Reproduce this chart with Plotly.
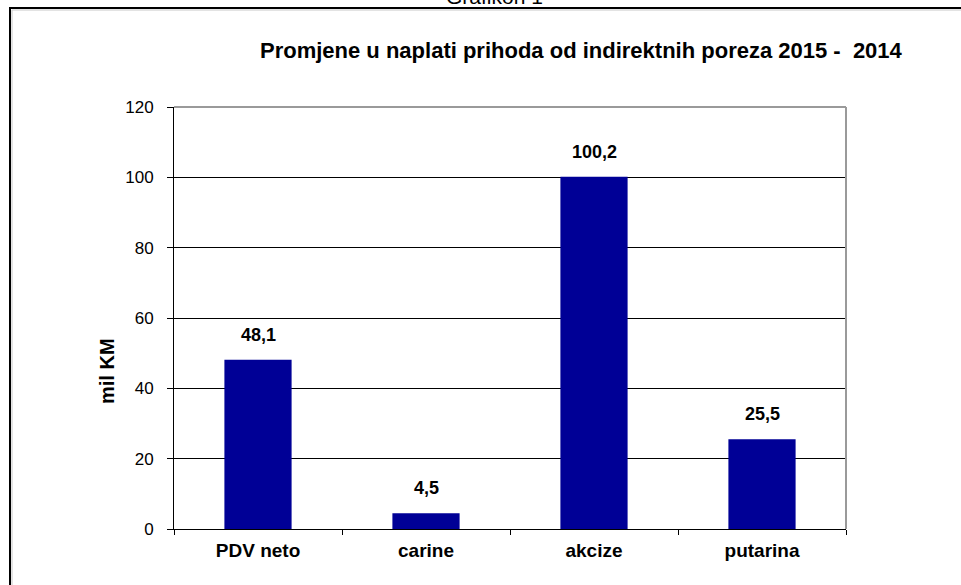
import plotly.graph_objects as go

categories = ["PDV neto", "carine", "akcize", "putarina"]
values = [48.1, 4.5, 100.2, 25.5]
value_labels = ["48,1", "4,5", "100,2", "25,5"]
y_ticks = [0, 20, 40, 60, 80, 100, 120]

title_text = "Promjene u naplati prihoda od indirektnih poreza 2015 -  2014"
top_text = "Grafikon 1"
y_title = "mil KM"

W, H = 961, 585
L, R, T, B = 174, 115, 107, 56
PW, PH = W - L - R, H - T - B

def px(x):
    return (x - L) / PW

def py(y):
    return (H - B - y) / PH

FONT = "Liberation Sans, Arial, sans-serif"

fig = go.Figure()
fig.add_trace(go.Bar(
    x=categories, y=values, width=0.4,
    marker=dict(color="#000096", line=dict(width=0)),
    hoverinfo="skip",
))

annotations = []
for c, v, t in zip(categories, values, value_labels):
    annotations.append(dict(x=c, y=v, xref="x", yref="y", text="<b>%s</b>" % t,
                            showarrow=False, yanchor="bottom", yshift=13,
                            font=dict(family=FONT, size=18, color="#000")))
annotations.append(dict(x=px(581), y=py(51), xref="paper", yref="paper",
                        text="<b>%s</b>" % title_text, showarrow=False,
                        xanchor="center", yanchor="middle",
                        font=dict(family=FONT, size=22, color="#000")))
annotations.append(dict(x=px(494), y=py(10), xref="paper", yref="paper",
                        text=top_text, showarrow=False,
                        xanchor="center", yanchor="bottom",
                        font=dict(family=FONT, size=21, color="#000")))
annotations.append(dict(x=px(107), y=py(371), xref="paper", yref="paper",
                        text="<b>%s</b>" % y_title, showarrow=False, textangle=-90,
                        xanchor="center", yanchor="middle",
                        font=dict(family=FONT, size=20, color="#000")))

shapes = [
    dict(type="line", xref="paper", yref="paper", x0=0, x1=1, y0=1, y1=1,
         line=dict(color="#9a9a9a", width=2)),
    dict(type="line", xref="paper", yref="paper", x0=1, x1=1, y0=0, y1=1,
         line=dict(color="#9a9a9a", width=2)),
    dict(type="line", xref="paper", yref="paper", x0=px(9), x1=px(970), y0=py(8), y1=py(8),
         line=dict(color="#000", width=2)),
    dict(type="line", xref="paper", yref="paper", x0=px(10), x1=px(10), y0=py(7), y1=py(600),
         line=dict(color="#000", width=2)),
    dict(type="line", xref="paper", yref="paper", x0=px(12), x1=px(970), y0=py(10), y1=py(10),
         line=dict(color="#c8c8c8", width=1)),
    dict(type="line", xref="paper", yref="paper", x0=px(12), x1=px(12), y0=py(10), y1=py(600),
         line=dict(color="#c8c8c8", width=1)),
]

fig.update_layout(
    width=W, height=H,
    margin=dict(l=L, r=R, t=T, b=B, pad=0),
    paper_bgcolor="white", plot_bgcolor="white",
    showlegend=False,
    annotations=annotations,
    shapes=shapes,
    xaxis=dict(
        type="category", showgrid=False, showline=True, linecolor="#000", linewidth=1,
        ticks="outside", tickson="boundaries", ticklen=5, tickcolor="#000",
        tickfont=dict(family=FONT, size=19, color="#000", weight="bold"),
        ticklabelstandoff=4, zeroline=False,
    ),
    yaxis=dict(
        range=[0, 120], tickvals=y_ticks, showgrid=True, gridcolor="#000", gridwidth=1,
        showline=True, linecolor="#000", linewidth=1, zeroline=False,
        ticks="outside", ticklen=6, tickcolor="#000",
        tickfont=dict(family=FONT, size=17, color="#000"),
        ticklabelstandoff=10,
    ),
)

fig.write_html("out.html", config={"displayModeBar": False},
               post_script="document.body.style.margin='0';document.body.style.overflow='hidden';")
